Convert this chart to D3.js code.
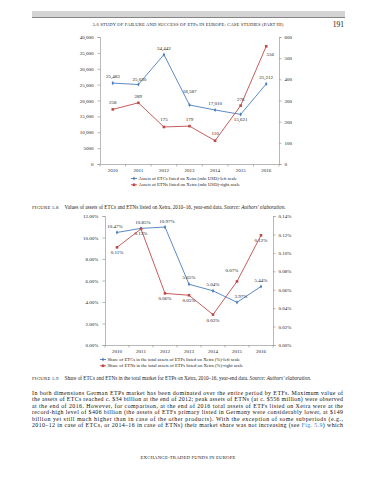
<!DOCTYPE html>
<html><head><meta charset="utf-8">
<script src="https://cdn.jsdelivr.net/npm/d3@7"></script>
<style>
html,body{margin:0;padding:0;background:#fff;}
svg{display:block;font-family:"Liberation Serif","Times New Roman",serif;}
</style></head>
<body><svg id="page" width="375" height="480"></svg>
<script>
// ---------- data ----------
const years = ["2010","2011","2012","2013","2014","2015","2016"];
// Figure 5.8
const etcAssets = [25483, 25030, 34442, 18587, 17010, 15621, 25212];
const etnAssets = [258, 289, 175, 179, 110, 276, 556];
const leftTicks1 = [0, 5000, 10000, 15000, 20000, 25000, 30000, 35000, 40000];
const leftTickLabels1 = ["0","5000","10,000","15,000","20,000","25,000","30,000","35,000","40,000"];
const rightTicks1 = [0, 100, 200, 300, 400, 500, 600];
// Figure 5.9
const etcShare = [10.47, 10.85, 10.97, 5.65, 5.04, 3.97, 5.44];
const etnShare = [0.106, 0.126, 0.056, 0.054, 0.033, 0.069, 0.119];
const leftTicks2 = [0, 2, 4, 6, 8, 10, 12];
const rightTicks2 = [0, 0.02, 0.04, 0.06, 0.08, 0.10, 0.12, 0.14];

const legend1 = ["Assets of ETCs listed on Xetra (mln USD)-left scale",
                 "Assets of ETNs listed on Xetra (mln USD)-right scale"];
const legend2 = ["Share of ETCs in the total assets of ETPs listed on Xetra (%)-left scale",
                 "Share of ETNs in the total assets of ETPs listed on Xetra (%)-right scale"];
const bodyLines = [
 "In both dimensions German ETPs market has been dominated over the entire period by ETFs. Maximum value of",
 "the assets of ETCs reached c. $34 billion at the end of 2012; peak assets of ETNs (at c. $556 million) were observed",
 "at the end of 2016. However, for comparison, at the end of 2016 total assets of ETFs listed on Xetra were at the",
 "record-high level of $406 billion (the assets of ETFs primary listed in Germany were considerably lower, at $149",
 "billion yet still much higher than in case of the other products). With the exception of some subperiods (e.g.,",
 "2010\u201312 in case of ETCs, or 2014\u201316 in case of ETNs) their market share was not increasing (see "
];

const BLUE = "#4a7ebb", RED = "#be4b48", INK = "#222", AX = "#9a9a9a";
const svg = d3.select("#page");

// ---------- running header ----------
svg.append("rect").attr("x",32).attr("y",11).attr("width",313).attr("height",6).attr("fill","#d4d4d4");
svg.append("line").attr("x1",32).attr("x2",345).attr("y1",17.5).attr("y2",17.5).attr("stroke","#666").attr("stroke-width",0.8);
svg.append("text").attr("x",188).attr("y",25.5).attr("text-anchor","middle").attr("font-size",4.6)
  .attr("fill",INK).attr("letter-spacing",0.15).text("5.6 STUDY OF FAILURE AND SUCCESS OF ETPs IN EUROPE: CASE STUDIES (PART III)");
svg.append("text").attr("x",344).attr("y",26.5).attr("text-anchor","end").attr("font-size",7.5)
  .attr("fill","#111").text("191");

// ---------- generic chart ----------
function chart(cfg){
  const g = svg.append("g");
  const x = d3.scaleBand().domain(years).range([cfg.x0, cfg.x1]);
  const cx = d => x(d) + x.bandwidth()/2;
  const yL = d3.scaleLinear().domain(cfg.lDom).range([cfg.yb, cfg.yt]);
  const yR = d3.scaleLinear().domain(cfg.rDom).range([cfg.yb, cfg.yt]);

  const axL = g.append("g").attr("transform",`translate(${cfg.x0},0)`)
    .call(d3.axisLeft(yL).tickValues(cfg.lTicks).tickSize(2.5).tickPadding(4).tickFormat(cfg.lFmt));
  const axR = g.append("g").attr("transform",`translate(${cfg.x1},0)`)
    .call(d3.axisRight(yR).tickValues(cfg.rTicks).tickSize(2.5).tickPadding(3).tickFormat(cfg.rFmt));
  const axB = g.append("g").attr("transform",`translate(0,${cfg.yb})`)
    .call(d3.axisBottom(x).tickSize(0).tickPadding(4));
  [axL,axR,axB].forEach(a=>{
    a.selectAll("path,line").attr("stroke",AX).attr("stroke-width",0.7);
    a.selectAll("text").attr("font-size",cfg.fs).attr("fill",INK).attr("font-family","Liberation Serif");
  });
  // category separators on x axis
  g.selectAll(".sep").data(years.concat(["end"])).join("line")
    .attr("x1",(d,i)=>cfg.x0 + i*x.step()).attr("x2",(d,i)=>cfg.x0 + i*x.step())
    .attr("y1",cfg.yb).attr("y2",cfg.yb+2.5).attr("stroke",AX).attr("stroke-width",0.7);

  const line = (sc) => d3.line().x((d,i)=>cx(years[i])).y(d=>sc(d));
  g.append("path").datum(cfg.s1).attr("d",line(yL)).attr("fill","none").attr("stroke",BLUE).attr("stroke-width",0.9);
  g.append("path").datum(cfg.s2).attr("d",line(yR)).attr("fill","none").attr("stroke",RED).attr("stroke-width",0.9);
  g.selectAll(".m1").data(cfg.s1).join("path")
    .attr("d",d3.symbol(d3.symbolDiamond,5))
    .attr("transform",(d,i)=>`translate(${cx(years[i])},${yL(d)})`).attr("fill",BLUE);
  g.selectAll(".m2").data(cfg.s2).join("rect")
    .attr("x",(d,i)=>cx(years[i])-1.3).attr("y",d=>yR(d)-1.3).attr("width",2.6).attr("height",2.6).attr("fill",RED);

  // data labels
  g.selectAll(".l1").data(cfg.s1).join("text")
    .attr("x",(d,i)=>cx(years[i]) + cfg.off1[i][0]).attr("y",(d,i)=>yL(d)+cfg.off1[i][1])
    .attr("text-anchor","middle").attr("font-size",cfg.fs).attr("fill",INK).text(cfg.f1);
  g.selectAll(".l2").data(cfg.s2).join("text")
    .attr("x",(d,i)=>cx(years[i]) + cfg.off2[i][0]).attr("y",(d,i)=>yR(d)+cfg.off2[i][1])
    .attr("text-anchor","middle").attr("font-size",cfg.fs).attr("fill",INK).text(cfg.f2);

  // legend
  cfg.legend.forEach((t,i)=>{
    const ly = cfg.legY + i*6.3;
    const col = i===0?BLUE:RED;
    g.append("line").attr("x1",cfg.legX).attr("x2",cfg.legX+6).attr("y1",ly).attr("y2",ly).attr("stroke",col).attr("stroke-width",0.9);
    if(i===0) g.append("path").attr("d",d3.symbol(d3.symbolDiamond,5)).attr("transform",`translate(${cfg.legX+3},${ly})`).attr("fill",col);
    else g.append("rect").attr("x",cfg.legX+1.7).attr("y",ly-1.3).attr("width",2.6).attr("height",2.6).attr("fill",col);
    g.append("text").attr("x",cfg.legX+7.5).attr("y",ly+1.6).attr("font-size",4.7).attr("fill",INK).text(t);
  });
}

chart({
  x0:100, x1:279, yb:164, yt:37,
  lDom:[0,40000], rDom:[0,600], lTicks:leftTicks1, rTicks:rightTicks1,
  lFmt:(d,i)=>leftTickLabels1[i], rFmt:d3.format("d"), fs:5,
  s1:etcAssets, s2:etnAssets,
  f1:d3.format(","), f2:d3.format("d"),
  off1:[[0,-5],[1,-4],[0,-5],[0,-12],[0,-5],[0,6.5],[0,-4.5]],
  off2:[[0,-5],[0,-4.5],[0,-5.5],[0,-5.5],[0,-5.5],[0,-4.5],[4,10]],
  legend:legend1, legX:131, legY:178.5
});

chart({
  x0:105, x1:273, yb:345, yt:216,
  lDom:[0,12], rDom:[0,0.14], lTicks:leftTicks2, rTicks:rightTicks2,
  lFmt:d=>d3.format(".2f")(d)+"%", rFmt:d=>d3.format(".2f")(d)+"%", fs:5,
  s1:etcShare, s2:etnShare,
  f1:d=>d3.format(".2f")(d)+"%", f2:d=>d3.format(".2f")(d)+"%",
  off1:[[-2,-4],[2,-4.5],[2,-4.5],[0,-5],[0,-5],[4,-4.5],[0,-4.5]],
  off2:[[0,6.5],[0,6.5],[0,7],[0,7],[0,7],[-5,-9],[0,6.5]],
  legend:legend2, legX:100, legY:359.5
});

// ---------- captions ----------
function caption(y, num, txt, src){
  const t = svg.append("text").attr("x",32).attr("y",y).attr("font-size",5.2).attr("fill",INK);
  t.append("tspan").attr("font-size",4.8).attr("letter-spacing",0.2).text(num);
  t.append("tspan").attr("dx",6).text(txt);
  t.append("tspan").attr("font-style","italic").text(" Source: ");
  t.append("tspan").attr("font-style","italic").text(src);
}
caption(208.5, "FIGURE 5.8", "Values of assets of ETCs and ETNs listed on Xetra, 2010\u201316, year-end data.", "Authors' elaboration.");
caption(380, "FIGURE 5.9", "Share of ETCs and ETNs in the total market for ETPs on Xetra, 2010\u201316, year-end data.", "Authors' elaboration.");

// ---------- body text ----------
bodyLines.forEach((l,i)=>{
  const t = svg.append("text").attr("x",32).attr("y",395 + i*6.4).attr("font-size",5.9).attr("fill","#111")
    .attr("textLength",311).attr("lengthAdjust","spacing");
  t.append("tspan").text(l);
  if(i===bodyLines.length-1){
    t.append("tspan").attr("fill","#3a7fc0").text("Fig. 5.9");
    t.append("tspan").text(") which");
  }
});

svg.append("text").attr("x",188).attr("y",459).attr("text-anchor","middle").attr("font-size",4.8)
  .attr("fill",INK).attr("letter-spacing",0.15).text("EXCHANGE-TRADED FUNDS IN EUROPE");
</script>
</body></html>
